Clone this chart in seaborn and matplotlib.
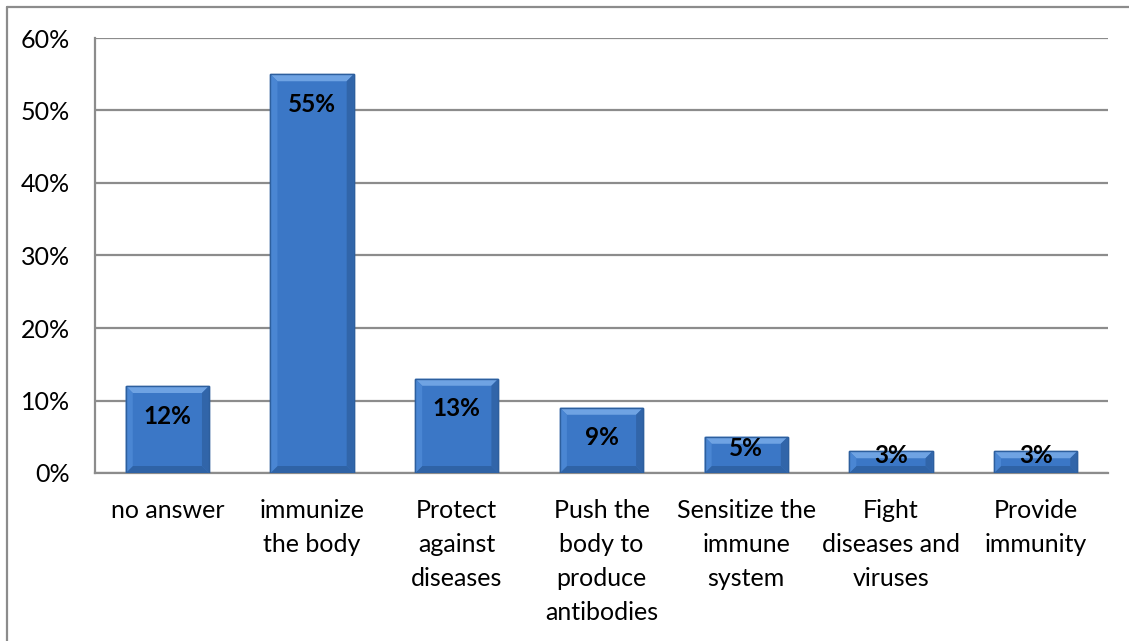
import matplotlib
matplotlib.use("Agg")
import matplotlib.pyplot as plt
import seaborn as sns
import pandas as pd
from matplotlib.patches import Polygon
from matplotlib.lines import Line2D
from matplotlib.ticker import PercentFormatter, MultipleLocator

categories = ["no answer", "immunize\nthe body", "Protect\nagainst\ndiseases",
              "Push the\nbody to\nproduce\nantibodies", "Sensitize the\nimmune\nsystem",
              "Fight\ndiseases and\nviruses", "Provide\nimmunity"]
values = [0.12, 0.55, 0.13, 0.09, 0.05, 0.03, 0.03]
value_labels = ["12%", "55%", "13%", "9%", "5%", "3%", "3%"]

sns.set_theme(style="white")
plt.rcParams['font.family'] = ['Lato', 'DejaVu Sans']

W, H = 1129, 641
fig = plt.figure(figsize=(W / 100, H / 100), dpi=100)
ax = fig.add_axes([95 / W, 1 - 473 / H, (1108 - 95) / W, (473 - 38) / H])

df = pd.DataFrame({"cat": categories, "val": values})
sns.barplot(data=df, x="cat", y="val", ax=ax, color="#3b77c6", width=0.575,
            edgecolor="#2d5f9e", linewidth=1.0, saturation=1, zorder=3)

ax.set_ylim(0, 0.6)
ax.set_xlim(-0.5, len(categories) - 0.5)
ax.yaxis.set_major_locator(MultipleLocator(0.1))
ax.yaxis.set_major_formatter(PercentFormatter(1.0, decimals=0))
ax.grid(axis="y", color="#8c8c8c", linewidth=1.6, zorder=0)
ax.set_axisbelow(True)
ax.set_xlabel("")
ax.set_ylabel("")
for s in ["top", "right"]:
    ax.spines[s].set_visible(False)
for s in ["left", "bottom"]:
    ax.spines[s].set_color("#8c8c8c")
    ax.spines[s].set_linewidth(1.6)
ax.tick_params(axis="y", length=0, pad=18, labelsize=18, labelcolor="black")
ax.tick_params(axis="x", length=0, pad=19, labelsize=18, labelcolor="black")
for t in ax.get_xticklabels():
    t.set_linespacing(1.58)
    t.set_va("top")

# bevel effect derived from the drawn bars
px_x = (len(categories)) / (1108 - 95)
px_y = 0.6 / (473 - 38)
for p in list(ax.patches):
    x0, y0 = p.get_x(), p.get_y()
    w, h = p.get_width(), p.get_height()
    x1, y1 = x0 + w, y0 + h
    bx = 7 * px_x
    by = min(7 * px_y, h / 2.2)
    bxi = min(bx, w / 2)
    top = Polygon([(x0, y1), (x1, y1), (x1 - bxi, y1 - by), (x0 + bxi, y1 - by)],
                  closed=True, facecolor="#6fa3e3", edgecolor="none", zorder=4)
    bot = Polygon([(x0, y0), (x1, y0), (x1 - bxi, y0 + by), (x0 + bxi, y0 + by)],
                  closed=True, facecolor="#2f63a6", edgecolor="none", zorder=4)
    left = Polygon([(x0, y0), (x0, y1), (x0 + bxi, y1 - by), (x0 + bxi, y0 + by)],
                   closed=True, facecolor="#4a86d3", edgecolor="none", zorder=4)
    right = Polygon([(x1, y0), (x1, y1), (x1 - bxi, y1 - by), (x1 - bxi, y0 + by)],
                    closed=True, facecolor="#3165a9", edgecolor="none", zorder=4)
    for poly in (top, bot, left, right):
        ax.add_patch(poly)
    ax.add_patch(plt.Rectangle((x0, y0), w, h, facecolor="none",
                               edgecolor="#2d5f9e", linewidth=1.0, zorder=5))

# value labels inside bar tops
for i, (v, lab) in enumerate(zip(values, value_labels)):
    hpx = v / px_y
    off = max(4, min(30, hpx - 25))
    ax.annotate(lab, xy=(i, v), xytext=(0, -off * 0.72), textcoords="offset points",
                ha="center", va="center", fontsize=17.5, fontweight="bold",
                color="black", zorder=6)

# outer chart frame (left and top edges)
fig.add_artist(Line2D([7 / W, 7 / W], [0, 1 - 7 / H], transform=fig.transFigure,
                      color="#8c8c8c", linewidth=1.6))
fig.add_artist(Line2D([7 / W, 1], [1 - 7 / H, 1 - 7 / H], transform=fig.transFigure,
                      color="#8c8c8c", linewidth=1.6))

fig.savefig("out.png", dpi=100, facecolor="white")
